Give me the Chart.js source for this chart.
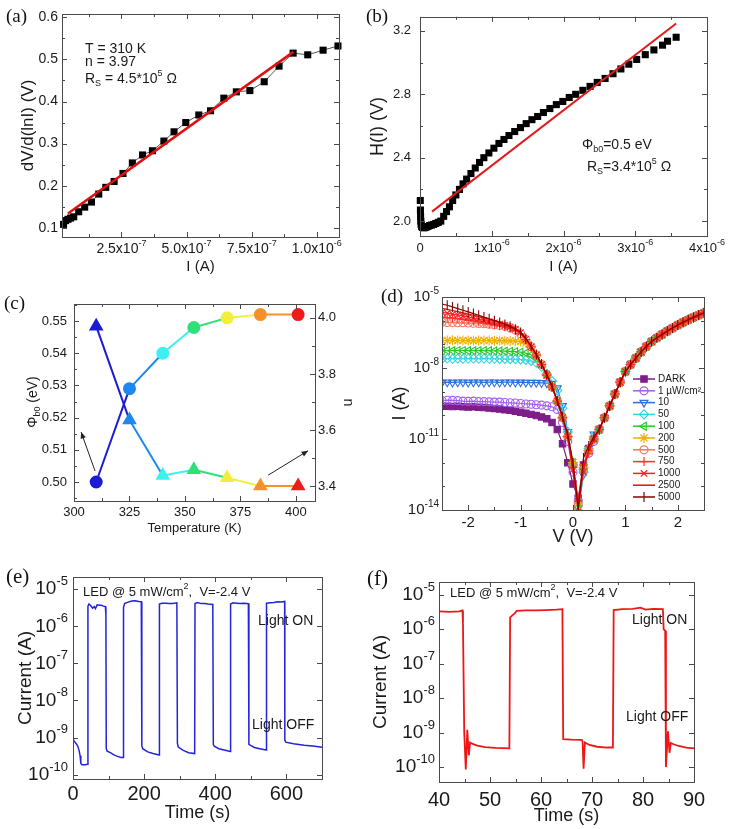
<!DOCTYPE html>
<html>
<head>
<meta charset="utf-8">
<script src="https://cdn.jsdelivr.net/npm/chart.js"></script>
<style>
  body { margin: 0; background: #fff; width: 730px; height: 829px; position: relative; overflow: hidden; }
  canvas { position: absolute; }
  .tag { position: absolute; font-family: 'Liberation Serif', 'Times New Roman', serif; line-height: 1; color: #111; }
</style>
</head>
<body>
<canvas id="ca" width="365" height="280" style="left:0;top:0"></canvas>
<canvas id="cb" width="365" height="280" style="left:365px;top:0"></canvas>
<canvas id="cc" width="365" height="270" style="left:0;top:280px"></canvas>
<canvas id="cd" width="365" height="270" style="left:365px;top:280px"></canvas>
<canvas id="ce" width="365" height="289" style="left:0;top:540px"></canvas>
<canvas id="cf" width="365" height="289" style="left:365px;top:540px"></canvas>
<div class="tag" style="left:6px;top:6px;font-size:19px">(a)</div>
<div class="tag" style="left:366px;top:6px;font-size:19px">(b)</div>
<div class="tag" style="left:4px;top:293px;font-size:19px">(c)</div>
<div class="tag" style="left:381px;top:286px;font-size:19px">(d)</div>
<div class="tag" style="left:6px;top:566px;font-size:21px">(e)</div>
<div class="tag" style="left:367px;top:568px;font-size:21px">(f)</div>
<script>
// ---------- data ----------
// (a) dV/d(lnI) vs I
const aCurrent = [2.8e-8, 3.6e-8, 4.5e-8, 5.5e-8, 6.7e-8, 8.6e-8, 1.09e-7, 1.35e-7, 1.63e-7, 1.90e-7,
  2.22e-7, 2.56e-7, 2.92e-7, 3.31e-7, 3.69e-7, 4.13e-7, 4.52e-7, 4.97e-7, 5.47e-7, 5.92e-7,
  6.43e-7, 6.91e-7, 7.43e-7, 7.98e-7, 8.55e-7, 9.09e-7, 9.65e-7, 1.024e-6, 1.081e-6];
const aDeriv = [0.108, 0.117, 0.120, 0.123, 0.126, 0.138, 0.149, 0.161, 0.180, 0.196,
  0.210, 0.229, 0.254, 0.273, 0.283, 0.306, 0.328, 0.350, 0.368, 0.378,
  0.408, 0.423, 0.426, 0.447, 0.484, 0.515, 0.511, 0.522, 0.532];
const aFitI = [4.5e-8, 9.1e-7];
const aFitV = [0.134, 0.518];
const aTicksX = [2.5e-7, 5e-7, 7.5e-7, 1e-6];
const aTicksY = [0.1, 0.2, 0.3, 0.4, 0.5, 0.6];

// (b) H(I) vs I, current in microamps
const bCurrentMicro = [0.004, 0.006, 0.008, 0.011, 0.015, 0.022, 0.033, 0.048, 0.066, 0.087,
  0.11, 0.135, 0.16, 0.19, 0.22, 0.255, 0.29, 0.33, 0.37, 0.41,
  0.455, 0.50, 0.55, 0.60, 0.65, 0.71, 0.77, 0.83, 0.89, 0.96,
  1.03, 1.10, 1.17, 1.24, 1.32, 1.40, 1.48, 1.56, 1.64, 1.72,
  1.81, 1.90, 1.99, 2.08, 2.17, 2.27, 2.37, 2.47, 2.58, 2.69,
  2.80, 2.91, 3.02, 3.14, 3.26, 3.38, 3.45, 3.57];
const bH = [2.13, 2.07, 2.03, 2.00, 1.98, 1.967, 1.960, 1.958, 1.959, 1.962,
  1.966, 1.972, 1.975, 1.979, 1.985, 1.992, 2.00, 2.03, 2.06, 2.09,
  2.13, 2.165, 2.20, 2.235, 2.265, 2.30, 2.335, 2.37, 2.40, 2.43,
  2.46, 2.49, 2.515, 2.54, 2.565, 2.59, 2.615, 2.64, 2.66, 2.685,
  2.71, 2.735, 2.755, 2.78, 2.80, 2.825, 2.85, 2.875, 2.90, 2.93,
  2.96, 2.99, 3.02, 3.05, 3.08, 3.11, 3.135, 3.16];
const bFitMicro = [0.167, 3.57];
const bFitH = [2.06, 3.247];
const bTicksX = [0, 1e-6, 2e-6, 3e-6, 4e-6];
const bTicksY = [2.0, 2.4, 2.8, 3.2];

// (c) barrier height and ideality factor vs temperature
const cTemp = [310, 325, 340, 354, 369, 384, 401];
const cPhi = [0.500, 0.529, 0.540, 0.548, 0.551, 0.552, 0.552];
const cIdeal = [3.97, 3.636, 3.439, 3.459, 3.431, 3.401, 3.401];
const cColors = ['#1c1cd4', '#1e88f0', '#3cf0f0', '#2ee07a', '#f2ee3c', '#f8902a', '#ec1c1c'];
const cTicksX = [300, 325, 350, 375, 400];
const cTicksPhi = [0.50, 0.51, 0.52, 0.53, 0.54, 0.55];
const cTicksN = [3.4, 3.6, 3.8, 4.0];

// (d) I-V under illumination, log10(I) values
const dVolt = [-2.5, -2.4, -2.3, -2.2, -2.1, -2.0, -1.9, -1.8, -1.7, -1.6, -1.5, -1.4, -1.3, -1.2, -1.1,
  -1.0, -0.9, -0.8, -0.7, -0.6, -0.5, -0.4, -0.3, -0.2, -0.1, 0.0, 0.1, 0.2, 0.3, 0.4,
  0.5, 0.6, 0.7, 0.8, 0.9, 1.0, 1.1, 1.2, 1.3, 1.4, 1.5, 1.6, 1.7, 1.8, 1.9, 2.0, 2.1, 2.2, 2.3, 2.4, 2.5];
const dLabels = ['DARK', '1 µW/cm²', '10', '50', '100', '200', '500', '750', '1000', '2500', '5000'];
// reverse branch, -2.5 V .. 0.4 V
const dLogReverse = [
  [-9.62, -9.62, -9.63, -9.62, -9.64, -9.65, -9.64, -9.66, -9.67, -9.69, -9.71, -9.73, -9.76, -9.79, -9.83,
   -9.87, -9.91, -9.96, -10.01, -10.07, -10.14, -10.3, -10.6, -11.2, -12.0, -12.9, -13.5, -12.1, -11.4, -11.0],
  [-9.38, -9.36, -9.37, -9.38, -9.40, -9.41, -9.40, -9.42, -9.42, -9.43, -9.44, -9.44, -9.46, -9.47, -9.48,
   -9.50, -9.52, -9.53, -9.55, -9.57, -9.60, -9.64, -9.75, -10.3, -11.1, -12.4, -13.6, -12.3, -11.6, -11.1],
  [-8.62, -8.60, -8.61, -8.60, -8.60, -8.61, -8.60, -8.60, -8.61, -8.60, -8.60, -8.61, -8.60, -8.60, -8.61,
   -8.60, -8.61, -8.62, -8.62, -8.63, -8.64, -8.66, -8.85, -9.6, -10.7, -12.2, -13.9, -12.5, -11.4, -10.8],
  [-7.62, -7.60, -7.61, -7.60, -7.61, -7.60, -7.60, -7.61, -7.60, -7.61, -7.61, -7.62, -7.62, -7.63, -7.63,
   -7.64, -7.66, -7.70, -7.78, -7.95, -8.25, -8.55, -8.95, -9.7, -10.7, -12.1, -14.2, -12.4, -11.4, -10.9],
  [-7.27, -7.26, -7.27, -7.26, -7.26, -7.27, -7.27, -7.26, -7.27, -7.27, -7.28, -7.28, -7.29, -7.30, -7.31,
   -7.33, -7.37, -7.45, -7.6, -7.9, -8.3, -8.8, -9.4, -10.1, -10.9, -12.0, -13.9, -12.3, -11.5, -11.0],
  [-6.84, -6.84, -6.83, -6.84, -6.84, -6.84, -6.85, -6.84, -6.84, -6.84, -6.85, -6.84, -6.85, -6.86, -6.86,
   -6.88, -6.95, -7.12, -7.45, -7.85, -8.3, -8.8, -9.4, -10.1, -10.9, -12.0, -13.7, -12.2, -11.5, -11.0],
  [-6.07, -6.08, -6.08, -6.09, -6.09, -6.10, -6.11, -6.12, -6.13, -6.15, -6.17, -6.20, -6.24, -6.30, -6.40,
   -6.55, -6.8, -7.1, -7.45, -7.85, -8.3, -8.8, -9.4, -10.1, -10.9, -12.1, -13.8, -12.3, -11.5, -11.0],
  [-5.85, -5.87, -5.89, -5.92, -5.95, -5.98, -6.01, -6.05, -6.09, -6.13, -6.17, -6.21, -6.26, -6.32, -6.42,
   -6.55, -6.8, -7.1, -7.45, -7.85, -8.3, -8.8, -9.4, -10.1, -10.9, -12.2, -14.0, -12.1, -11.6, -11.0],
  [-5.65, -5.68, -5.72, -5.76, -5.80, -5.85, -5.89, -5.94, -5.99, -6.04, -6.09, -6.14, -6.2, -6.27, -6.36,
   -6.5, -6.78, -7.1, -7.45, -7.85, -8.3, -8.8, -9.4, -10.1, -10.9, -12.3, -13.5, -12.4, -11.4, -11.0],
  [-5.48, -5.52, -5.57, -5.62, -5.67, -5.72, -5.77, -5.83, -5.88, -5.94, -6.0, -6.06, -6.13, -6.21, -6.32,
   -6.48, -6.75, -7.08, -7.43, -7.83, -8.3, -8.8, -9.4, -10.1, -10.9, -12.4, -14.0, -12.2, -11.5, -11.0],
  [-5.3, -5.35, -5.42, -5.49, -5.56, -5.63, -5.7, -5.77, -5.85, -5.92, -6.0, -6.08, -6.16, -6.25, -6.36,
   -6.5, -6.76, -7.08, -7.43, -7.83, -8.28, -8.78, -9.38, -10.05, -10.8, -12.0, -13.9, -11.8, -11.3, -10.9]
];
// forward branch 0.5 V .. 2.5 V, common to all curves
const dLogForward = [-10.6, -10.1, -9.6, -9.1, -8.6, -8.15, -7.85, -7.58, -7.32, -7.09, -6.88,
  -6.72, -6.58, -6.44, -6.31, -6.18, -6.07, -5.96, -5.86, -5.76, -5.67];
const dTicksX = [-2, -1, 0, 1, 2];
const dTicksY = [1e-14, 1e-11, 1e-8, 1e-5];

// (e) switching, full run
const eTime = [0, 3, 8, 13, 17, 20, 22, 25, 35, 41,
  42, 45, 50, 55, 60, 63, 68, 75, 80, 85, 91, 92.5,
  93.5, 96, 105, 115, 125, 135, 141,
  142, 145, 155, 165, 175, 185, 192,
  193.5, 196, 210, 225, 242,
  243, 250, 260, 270, 280, 292,
  293.5, 296, 310, 325, 342,
  343, 350, 360, 370, 380, 393,
  394.5, 397, 410, 425, 442,
  443, 450, 460, 470, 480, 493,
  494.5, 498, 510, 525, 543,
  544, 555, 565, 575, 585, 595,
  595.5, 598, 620, 650, 680, 700];
const eCurrent = [9.5e-10, 8e-10, 7e-10, 6e-10, 4.5e-10, 3.2e-10, 2e-10, 1.85e-10, 1.85e-10, 1.9e-10,
  3.5e-6, 4e-6, 3.6e-6, 3.1e-6, 3.4e-6, 3.0e-6, 3.8e-6, 3.7e-6, 3.7e-6, 3.5e-6, 3.4e-6, 2e-6,
  5e-10, 4.3e-10, 3.9e-10, 3.4e-10, 3.1e-10, 2.9e-10, 2.9e-10,
  3.2e-6, 4.1e-6, 4.5e-6, 4.8e-6, 4.9e-6, 4.7e-6, 4.6e-6,
  6e-10, 5e-10, 4.1e-10, 3.7e-10, 3.4e-10,
  4e-6, 4.2e-6, 4.2e-6, 4.1e-6, 4.1e-6, 4.3e-6,
  7e-10, 5.5e-10, 4.5e-10, 3.9e-10, 3.7e-10,
  4.1e-6, 4.4e-6, 4.1e-6, 4.1e-6, 4.0e-6, 3.9e-6,
  6.5e-10, 5.8e-10, 5e-10, 4.6e-10, 4.2e-10,
  4e-6, 4.3e-6, 4.2e-6, 4.1e-6, 4.2e-6, 4.1e-6,
  6.5e-10, 6.2e-10, 5.4e-10, 5e-10, 4.6e-10,
  4.2e-6, 4.3e-6, 4.4e-6, 4.6e-6, 4.5e-6, 4.7e-6,
  8.5e-10, 7.5e-10, 6.8e-10, 6.2e-10, 5.8e-10, 5.5e-10];
const eTicksX = [0, 200, 400, 600];
const decadeTicks = [1e-10, 1e-9, 1e-8, 1e-7, 1e-6, 1e-5];

// (f) switching, detail 40-90 s
const fTime = [40, 42, 44, 44.6, 44.7, 44.95, 45.25, 45.55, 45.85, 46.1, 46.6, 47.5, 49, 51, 53.8,
  53.95, 54.5, 54.9, 55.2, 57, 59, 61, 63, 64.2,
  64.35, 66, 68.0, 68.15, 68.35, 68.6, 69.5, 71, 73, 74.1,
  74.25, 76, 78, 79.5, 80.5, 82, 83.9,
  84.05, 84.35, 84.5, 84.9, 85.2, 85.45, 86, 87, 88.5, 90];
const fCurrent = [3.3e-6, 3.2e-6, 3.3e-6, 3.5e-6, 1.5e-6, 1e-9, 8.5e-11, 1.2e-9, 2.2e-10, 5.2e-10, 4.7e-10, 4.2e-10, 3.8e-10, 3.6e-10, 3.5e-10,
  2.2e-6, 2.6e-6, 2.9e-6, 3.4e-6, 3.5e-6, 3.5e-6, 3.6e-6, 3.7e-6, 3.8e-6,
  6.5e-10, 6.3e-10, 6.2e-10, 5.5e-10, 9e-11, 5.2e-10, 4.4e-10, 3.9e-10, 3.7e-10, 3.7e-10,
  3.6e-6, 3.8e-6, 3.9e-6, 4.2e-6, 3.7e-6, 3.9e-6, 3.8e-6,
  1e-6, 9e-7, 1e-10, 1.1e-9, 2.6e-10, 5e-10, 4.6e-10, 4.1e-10, 3.7e-10, 3.5e-10];
const fTicksX = [40, 50, 60, 70, 80, 90];

// ---------- helpers ----------
const SANS = "'Liberation Sans', Arial, sans-serif";
Chart.defaults.font.family = SANS;
Chart.defaults.color = '#1a1a1a';
Chart.defaults.animation = false;
Chart.defaults.responsive = false;
Chart.defaults.plugins.legend.display = false;
Chart.defaults.plugins.tooltip.enabled = false;

const pts = (xs, ys) => xs.map((x, i) => ({x, y: ys[i]}));
const expOf = v => Math.floor(Math.log10(v) + 1e-9);
// tick label formats with a raised exponent, as [text, kind] parts
const TICK_FORMATS = {
  pow10: v => ['10', [String(Math.round(Math.log10(v))), 'p']],
  sci1: v => [(v / Math.pow(10, expOf(v))).toFixed(1) + 'x10', [String(expOf(v)), 'p']],
  sci0: v => v === 0 ? ['0'] : [(v / Math.pow(10, expOf(v))).toFixed(0) + 'x10', [String(expOf(v)), 'p']]
};

function axis(o) {
  return {
    type: o.type || 'linear',
    position: o.pos,
    min: o.min, max: o.max, bounds: 'data',
    afterBuildTicks: s => { s.ticks = o.ticks.map(v => ({value: v})); },
    afterFit: s => { if (s.isHorizontal()) s.height = o.size; else s.width = o.size; },
    grid: {display: false, drawTicks: false},
    border: {display: false},
    ticks: {display: !o.rich, font: {size: o.font}, padding: o.pad, maxRotation: 0, autoSkip: false,
      color: '#1a1a1a', callback: o.fmt || (v => v)},
    title: o.title ? {display: true, text: o.title, color: '#1a1a1a',
      font: {size: o.tfont}, padding: o.tpad} : {display: false}
  };
}

// box with inward ticks on all sides, Origin style
const framePlugin = {
  id: 'frame',
  afterDraw(chart, args, o) {
    const {ctx, chartArea: a} = chart;
    const twin = Object.values(chart.scales).some(s => s.position === 'right');
    ctx.save();
    ctx.strokeStyle = '#4a4a4a';
    ctx.lineWidth = 1;
    const line = (x1, y1, x2, y2) => { ctx.beginPath(); ctx.moveTo(x1, y1); ctx.lineTo(x2, y2); ctx.stroke(); };
    ctx.strokeRect(Math.round(a.left) + 0.5, Math.round(a.top) + 0.5,
      Math.round(a.right - a.left), Math.round(a.bottom - a.top));
    Object.values(chart.scales).forEach(s => {
      const major = s.ticks.map(t => t.value);
      let minor = [];
      if (s.type === 'logarithmic') {
        if (o.logMinor) {
          for (let e = Math.ceil(Math.log10(s.min)); e <= Math.floor(Math.log10(s.max)); e++) minor.push(Math.pow(10, e));
        }
      } else if (major.length > 1) {
        const st = major[1] - major[0];
        for (let v = major[0] - st / 2; v <= s.max; v += st) if (v >= s.min) minor.push(v);
      }
      const mark = (v, len) => {
        const p = Math.round(s.getPixelForValue(v)) + 0.5;
        if (s.isHorizontal()) {
          if (p < a.left || p > a.right) return;
          line(p, a.bottom, p, a.bottom - len);
          line(p, a.top, p, a.top + len);
        } else {
          if (p < a.top || p > a.bottom) return;
          if (!twin || s.position === 'left') line(a.left, p, a.left + len, p);
          if (!twin || s.position === 'right') line(a.right, p, a.right - len, p);
        }
      };
      major.forEach(v => mark(v, 5));
      minor.forEach(v => mark(v, 3));
    });
    ctx.restore();
  }
};

// text with sub/superscripts: parts are [text, ''|'b'|'p']
function drawRich(ctx, it) {
  const size = it.size || 14;
  const parts = it.parts.map(p => typeof p === 'string' ? [p, ''] : p);
  const fontOf = k => (k ? Math.round(size * 0.66) : size) + 'px ' + SANS;
  ctx.save();
  ctx.translate(it.x, it.y);
  if (it.rot) ctx.rotate(it.rot);
  let w = 0;
  parts.forEach(([t, k]) => { ctx.font = fontOf(k); w += ctx.measureText(t).width; });
  let x = it.align === 'center' ? -w / 2 : it.align === 'right' ? -w : 0;
  ctx.fillStyle = '#1a1a1a';
  ctx.textBaseline = 'middle';
  parts.forEach(([t, k]) => {
    ctx.font = fontOf(k);
    const dy = k === 'b' ? size * 0.3 : k === 'p' ? -size * 0.4 : 0;
    ctx.fillText(t, x, dy);
    x += ctx.measureText(t).width;
  });
  ctx.restore();
}
const notesPlugin = {
  id: 'notes',
  afterDraw(chart, args, o) { (o.items || []).forEach(it => drawRich(chart.ctx, it)); }
};

// tick labels with superscript exponents, placed at the library's tick pixels
const richTicksPlugin = {
  id: 'richTicks',
  afterDraw(chart, args, o) {
    const a = chart.chartArea;
    (o.axes || []).forEach(cfg => {
      const s = chart.scales[cfg.id];
      const fmt = TICK_FORMATS[cfg.fmt];
      s.ticks.forEach(t => {
        const p = s.getPixelForValue(t.value);
        const parts = fmt(t.value);
        if (s.isHorizontal()) drawRich(chart.ctx, {x: p, y: a.bottom + cfg.off, parts, size: cfg.size, align: 'center'});
        else drawRich(chart.ctx, {x: a.left - cfg.off, y: p, parts, size: cfg.size, align: 'right'});
      });
    });
  }
};

// arrows given in data units
const arrowPlugin = {
  id: 'arrows',
  afterDraw(chart, args, o) {
    const ctx = chart.ctx;
    (o.items || []).forEach(it => {
      const ys = chart.scales[it.axis];
      const x1 = chart.scales.x.getPixelForValue(it.from[0]), y1 = ys.getPixelForValue(it.from[1]);
      const x2 = chart.scales.x.getPixelForValue(it.to[0]), y2 = ys.getPixelForValue(it.to[1]);
      const ang = Math.atan2(y2 - y1, x2 - x1);
      ctx.save();
      ctx.strokeStyle = '#222'; ctx.fillStyle = '#222'; ctx.lineWidth = 1;
      ctx.beginPath(); ctx.moveTo(x1, y1); ctx.lineTo(x2, y2); ctx.stroke();
      ctx.beginPath();
      ctx.moveTo(x2, y2);
      ctx.lineTo(x2 - 7 * Math.cos(ang - 0.4), y2 - 7 * Math.sin(ang - 0.4));
      ctx.lineTo(x2 - 7 * Math.cos(ang + 0.4), y2 - 7 * Math.sin(ang + 0.4));
      ctx.closePath(); ctx.fill();
      ctx.restore();
    });
  }
};

// legend with line through the marker
const lineLegendPlugin = {
  id: 'lineLegend',
  afterDraw(chart, args, o) {
    if (!o.x) return;
    const ctx = chart.ctx;
    chart.data.datasets.forEach((ds, i) => {
      const y = o.y + i * o.step;
      ctx.save();
      ctx.strokeStyle = ds.borderColor; ctx.lineWidth = 1.5;
      ctx.beginPath(); ctx.moveTo(o.x, y); ctx.lineTo(o.x + o.len, y); ctx.stroke();
      if (ds.pointRadius > 0 && Chart.helpers && Chart.helpers.drawPoint) {
        ctx.fillStyle = ds.pointBackgroundColor; ctx.lineWidth = 1.2;
        Chart.helpers.drawPoint(ctx, {pointStyle: ds.pointStyle, rotation: ds.pointRotation || 0,
          radius: ds.pointRadius, borderWidth: 1.2}, o.x + o.len / 2, y);
      }
      ctx.fillStyle = '#1a1a1a';
      ctx.font = o.size + 'px ' + SANS;
      ctx.textBaseline = 'middle';
      ctx.fillText(ds.label, o.x + o.len + 3, y);
      ctx.restore();
    });
  }
};
Chart.register(framePlugin, notesPlugin, richTicksPlugin, arrowPlugin, lineLegendPlugin);

// ---------- (a) ----------
new Chart(document.getElementById('ca'), {
  type: 'scatter',
  data: {datasets: [
    {data: pts(aFitI, aFitV), showLine: true, borderColor: '#e01010', borderWidth: 2.5, pointRadius: 0, order: 0},
    {data: pts(aCurrent, aDeriv), showLine: true, borderColor: '#555', borderWidth: 1,
      pointStyle: 'rect', pointRadius: 5, pointBackgroundColor: '#000', pointBorderColor: '#000',
      pointBorderWidth: 0, clip: false, order: 1}
  ]},
  options: {
    layout: {padding: {top: 14, right: 26, left: 0, bottom: 0}},
    scales: {
      x: axis({pos: 'bottom', min: 2.2e-8, max: 1.085e-6, ticks: aTicksX, rich: true, size: 43,
        title: 'I (A)', tfont: 15, tpad: {top: 0, bottom: 4}}),
      y: axis({pos: 'left', min: 0.078, max: 0.608, ticks: aTicksY, fmt: v => v.toFixed(1), size: 62,
        font: 14, pad: 4, title: 'dV/d(lnI) (V)', tfont: 17, tpad: {top: 18, bottom: 0}})
    },
    plugins: {
      richTicks: {axes: [{id: 'x', fmt: 'sci1', size: 14, off: 12}]},
      notes: {items: [
        {x: 85, y: 49, parts: ['T = 310 K'], size: 14},
        {x: 85, y: 62, parts: ['n = 3.97'], size: 14},
        {x: 85, y: 79, parts: ['R', ['S', 'b'], ' = 4.5*10', ['5', 'p'], ' Ω'], size: 14}
      ]}
    }
  }
});

// ---------- (b) ----------
new Chart(document.getElementById('cb'), {
  type: 'scatter',
  data: {datasets: [
    {data: pts(bFitMicro.map(v => v * 1e-6), bFitH), showLine: true, borderColor: '#e31a1c', borderWidth: 2, pointRadius: 0, order: 0},
    {data: pts(bCurrentMicro.map(v => v * 1e-6), bH), showLine: false,
      pointStyle: 'rect', pointRadius: 5, pointBackgroundColor: '#000', pointBorderColor: '#000',
      pointBorderWidth: 0, clip: false, order: 1}
  ]},
  options: {
    layout: {padding: {top: 14, right: 23, left: 0, bottom: 0}},
    scales: {
      x: axis({pos: 'bottom', min: 0, max: 4e-6, ticks: bTicksX, rich: true, size: 44,
        title: 'I (A)', tfont: 15, tpad: {top: 0, bottom: 4}}),
      y: axis({pos: 'left', min: 1.906, max: 3.289, ticks: bTicksY, fmt: v => v.toFixed(1), size: 55,
        font: 13, pad: 9, title: 'H(I) (V)', tfont: 18, tpad: {top: 2, bottom: 0}})
    },
    plugins: {
      richTicks: {axes: [{id: 'x', fmt: 'sci0', size: 13, off: 12}]},
      notes: {items: [
        {x: 217, y: 145, parts: ['Φ', ['b0', 'b'], '=0.5 eV'], size: 14},
        {x: 222, y: 167, parts: ['R', ['S', 'b'], '=3.4*10', ['5', 'p'], ' Ω'], size: 14}
      ]}
    }
  }
});

// ---------- (c) ----------
new Chart(document.getElementById('cc'), {
  type: 'line',
  data: {labels: cTemp, datasets: [
    {data: pts(cTemp, cPhi), yAxisID: 'y', borderWidth: 2, pointStyle: 'circle', pointRadius: 5.5,
      pointBackgroundColor: cColors, pointBorderColor: cColors, borderColor: cColors[0],
      segment: {borderColor: ctx => cColors[ctx.p0DataIndex]}, clip: false},
    {data: pts(cTemp, cIdeal), yAxisID: 'y1', borderWidth: 2, pointStyle: 'triangle', pointRadius: 6.5,
      pointBackgroundColor: cColors, pointBorderColor: cColors, borderColor: cColors[0],
      segment: {borderColor: ctx => cColors[ctx.p0DataIndex]}, clip: false}
  ]},
  options: {
    layout: {padding: {top: 24, right: 0, left: 0, bottom: 0}},
    scales: {
      x: axis({pos: 'bottom', min: 300, max: 408.6, ticks: cTicksX, size: 49,
        font: 13, pad: 4, title: 'Temperature (K)', tfont: 13, tpad: {top: 0, bottom: 14}}),
      y: axis({pos: 'left', min: 0.4941, max: 0.5553, ticks: cTicksPhi, fmt: v => v.toFixed(2), size: 74,
        font: 13, pad: 7}),
      y1: axis({pos: 'right', min: 3.348, max: 4.049, ticks: cTicksN, fmt: v => v.toFixed(1), size: 50,
        font: 13, pad: 3, title: 'n', tfont: 14, tpad: {top: 9, bottom: 0}})
    },
    plugins: {
      notes: {items: [
        {x: 33, y: 122, rot: -Math.PI / 2, align: 'center', parts: ['Φ', ['b0', 'b'], ' (eV)'], size: 14}
      ]},
      arrows: {items: [
        {axis: 'y', from: [309.5, 0.5034], to: [303.2, 0.5155]},
        {axis: 'y1', from: [387.5, 3.44], to: [405.5, 3.527]}
      ]}
    }
  }
});

// ---------- (d) ----------
const dColors = ['#7d1e8a', '#a35cf0', '#2a6fdc', '#33d3e3', '#27c927', '#f0b000', '#f07a58', '#ff3030', '#ff1c1c', '#de1414', '#8b0000'];
const dStyles = ['rect', 'circle', 'triangle', 'rectRot', 'triangle', 'star', 'circle', 'cross', 'crossRot', 'circle', 'line'];
const dRotation = [0, 0, 180, 0, 270, 0, 0, 0, 0, 0, 90];
const dRadius = [4.5, 4, 4.5, 4.5, 4.5, 5, 4, 4.5, 4.5, 0, 5];
const dFilled = [true, false, false, false, false, false, false, false, false, false, false];
new Chart(document.getElementById('cd'), {
  type: 'line',
  data: {datasets: dLabels.map((label, i) => ({
    label,
    data: pts(dVolt, dLogReverse[i].concat(dLogForward).map(v => Math.pow(10, v))),
    borderColor: dColors[i], borderWidth: 1.2,
    pointStyle: dStyles[i], pointRotation: dRotation[i], pointRadius: dRadius[i],
    pointBorderColor: dColors[i], pointBorderWidth: 1.1,
    pointBackgroundColor: dFilled[i] ? dColors[i] : 'rgba(255,255,255,0)',
    order: dLabels.length - 1 - i
  }))},
  options: {
    layout: {padding: {top: 17, right: 26, left: 0, bottom: 0}},
    scales: {
      x: axis({pos: 'bottom', min: -2.5, max: 2.5, ticks: dTicksX, size: 40,
        font: 15, pad: 4, title: 'V (V)', tfont: 18, tpad: {top: 0, bottom: 2}}),
      y: axis({type: 'logarithmic', pos: 'left', min: 1e-14, max: 1e-5, ticks: dTicksY, rich: true, size: 77,
        title: 'I (A)', tfont: 18, tpad: {top: 24, bottom: 0}})
    },
    plugins: {
      frame: {logMinor: true},
      richTicks: {axes: [{id: 'y', fmt: 'pow10', size: 15, off: 3}]},
      lineLegend: {x: 268, y: 99, step: 11.8, len: 22, size: 10}
    }
  }
});

// ---------- (e) ----------
new Chart(document.getElementById('ce'), {
  type: 'line',
  data: {datasets: [{data: pts(eTime, eCurrent), borderColor: '#2323d8', borderWidth: 1.5, pointRadius: 0}]},
  options: {
    layout: {padding: {top: 37, right: 43, left: 0, bottom: 0}},
    scales: {
      x: axis({pos: 'bottom', min: 0, max: 700, ticks: eTicksX, size: 50,
        font: 20, pad: 3, title: 'Time (s)', tfont: 18, tpad: {top: 0, bottom: 5}}),
      y: axis({type: 'logarithmic', pos: 'left', min: 7.6e-11, max: 2.14e-5, ticks: decadeTicks, rich: true, size: 73,
        title: 'Current (A)', tfont: 19, tpad: {top: 14, bottom: 0}})
    },
    plugins: {
      richTicks: {axes: [{id: 'y', fmt: 'pow10', size: 19, off: 5}]},
      notes: {items: [
        {x: 83, y: 52, parts: ['LED @ 5 mW/cm', ['2', 'p'], ',  V=-2.4 V'], size: 13},
        {x: 258, y: 81, parts: ['Light ON'], size: 14},
        {x: 252, y: 185, parts: ['Light OFF'], size: 14}
      ]}
    }
  }
});

// ---------- (f) ----------
new Chart(document.getElementById('cf'), {
  type: 'line',
  data: {datasets: [{data: pts(fTime, fCurrent), borderColor: '#ee1616', borderWidth: 1.8, pointRadius: 0}]},
  options: {
    layout: {padding: {top: 42, right: 36, left: 0, bottom: 0}},
    scales: {
      x: axis({pos: 'bottom', min: 40, max: 90, ticks: fTicksX, size: 47,
        font: 20, pad: 6, title: 'Time (s)', tfont: 18, tpad: {top: 0, bottom: 2}}),
      y: axis({type: 'logarithmic', pos: 'left', min: 3.7e-11, max: 2.34e-5, ticks: decadeTicks, rich: true, size: 74,
        title: 'Current (A)', tfont: 19, tpad: {top: 4, bottom: 0}})
    },
    plugins: {
      richTicks: {axes: [{id: 'y', fmt: 'pow10', size: 19, off: 4}]},
      notes: {items: [
        {x: 85, y: 53, parts: ['LED @ 5 mW/cm', ['2', 'p'], ',  V=-2.4 V'], size: 13},
        {x: 267, y: 80, parts: ['Light ON'], size: 14},
        {x: 261, y: 177, parts: ['Light OFF'], size: 14}
      ]}
    }
  }
});
</script>
</body>
</html>
